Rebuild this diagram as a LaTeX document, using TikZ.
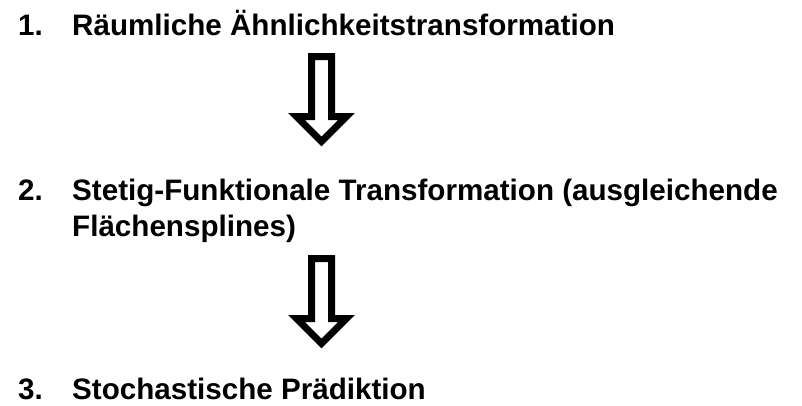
\documentclass[tikz,border=0pt]{standalone}
\usepackage{fontspec}
\setmainfont{Liberation Sans}
\begin{document}
\begin{tikzpicture}[x=1pt,y=-1pt,
    schritt/.style = {anchor=base west, inner sep=0pt, font=\fontsize{29.6}{36}\selectfont\bfseries},
    pfeil/.style = {draw=black, line width=7pt, line join=miter, fill=white}]
    \useasboundingbox (0,0) rectangle (802,405);
    % Schritte
    \node[schritt] (nr1) at (18,35) {1.};
    \node[schritt] (s1) at (72,35) {Räumliche Ähnlichkeitstransformation};
    \node[schritt] (nr2) at (18,200) {2.};
    \node[schritt] (s2) at (72,200) {Stetig-Funktionale Transformation (ausgleichende};
    \node[schritt] (s2b) at (72,236) {Flächensplines)};
    \node[schritt] (nr3) at (18,399) {3.};
    \node[schritt] (s3) at (72,399) {Stochastische Prädiktion};
    % Pfeile
    \coordinate (p1) at (321.5,56.5);
    \coordinate (p2) at (321.5,258.5);
    \foreach \p in {p1,p2}{
        \draw[pfeil, shift={(\p)}]
        (-10,0) -- (10,0) -- (10,60) -- (25,60) -- (0,85) -- (-25,60) -- (-10,60) -- cycle;
    }
\end{tikzpicture}
\end{document}
